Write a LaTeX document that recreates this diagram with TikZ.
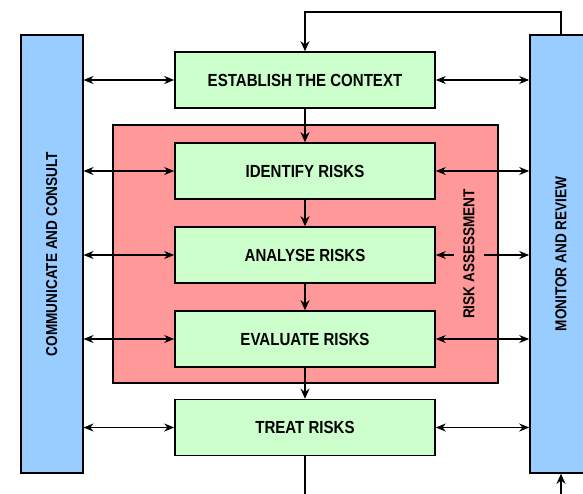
\documentclass[tikz,border=0pt]{standalone}
\usepackage{fontspec}
\setmainfont[FakeStretch=0.86]{Liberation Sans}
\usepackage{graphicx}
\usetikzlibrary{arrows.meta}
\definecolor{stepgreen}{RGB}{204,255,204}
\definecolor{assessred}{RGB}{255,153,153}
\definecolor{sideblue}{RGB}{153,204,255}

\begin{document}
\begin{tikzpicture}[x=1pt,y=-1pt,
  stepbox/.style={draw=black, line width=1.6pt, fill=stepgreen, minimum width=260pt, minimum height=56pt, inner sep=0pt, font=\fontsize{17.5}{20}\selectfont\bfseries},
  sidebox/.style={draw=black, line width=1.6pt, fill=sideblue, minimum width=62pt, minimum height=438pt, inner sep=0pt, font=\fontsize{15.8}{18}\selectfont\bfseries},
  flow/.style={line width=1.6pt, -{Stealth[length=10pt,width=9pt]}},
  link/.style={line width=1.2pt, {Stealth[length=10pt,width=8pt]}-{Stealth[length=10pt,width=8pt]}}]
\useasboundingbox (0,0) rectangle (583,493);
\clip (0,0) rectangle (583,493);

%Shape: risk assessment frame
\node [draw=black, line width=1.6pt, fill=assessred, minimum width=385pt, minimum height=258pt] (assess) at (305.5,254) {};

%Shape: side boxes
\node [sidebox] (consult) at (51.7,254) {\rotatebox{90}{COMMUNICATE AND CONSULT}};
\node [sidebox] (monitor) at (561,254) {\rotatebox{90}{MONITOR AND REVIEW}};

%Shape: process steps
\node [stepbox] (establish) at (305,80) {ESTABLISH THE CONTEXT};
\node [stepbox] (identify) at (305,171) {IDENTIFY RISKS};
\node [stepbox] (analyse) at (305,255) {ANALYSE RISKS};
\node [stepbox] (evaluate) at (305,339) {EVALUATE RISKS};
\node [stepbox] (treat) at (305,427.5) {TREAT RISKS};

%Straight Lines: main flow
\draw [flow] (establish) -- (identify);
\draw [flow] (identify) -- (analyse);
\draw [flow] (analyse) -- (evaluate);
\draw [flow] (evaluate) -- (treat);

%Straight Lines: feedback loop
\coordinate (loopend) at (561,505);
\draw [flow] (monitor.north) -- ++(0,-22.3) -| (establish.north);
\draw [line width=1.6pt] (treat.south) -- ++(0,45);
\draw [flow] (loopend) -- (monitor.south);

%Straight Lines: links to the side boxes
\foreach \s in {establish,identify,analyse,evaluate,treat} {
  \draw [link] (consult.east |- \s) -- (\s.west);
  \draw [link] (\s.east) -- (monitor.west |- \s);
}

% Text Node
\node [fill=assessred, inner sep=0pt, minimum width=30pt, font=\fontsize{15.8}{18}\selectfont\bfseries] (assesslabel) at (469,254) {\rotatebox{90}{RISK ASSESSMENT}};

\end{tikzpicture}
\end{document}
